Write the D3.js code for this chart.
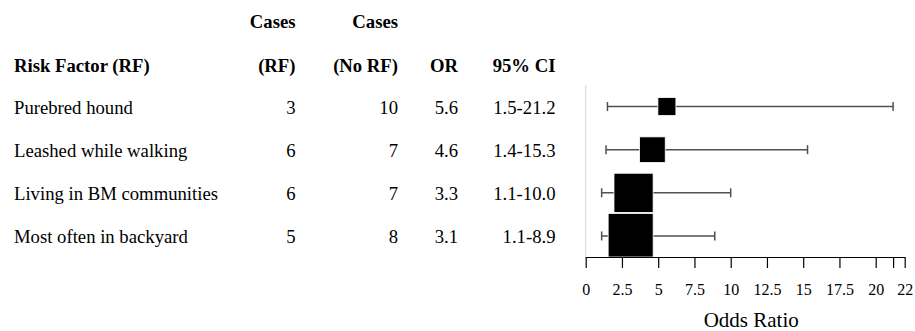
<!DOCTYPE html>
<html>
<head>
<meta charset="utf-8">
<script src="https://cdn.jsdelivr.net/npm/d3@7"></script>
<style>
  html, body { margin: 0; padding: 0; background: #fff; }
</style>
</head>
<body>
<div id="chart"></div>
<script>
// Table / forest plot data
const factors = ["Purebred hound", "Leashed while walking", "Living in BM communities", "Most often in backyard"];
const casesRF = [3, 6, 6, 5];
const casesNoRF = [10, 7, 7, 8];
const oddsRatio = [5.6, 4.6, 3.3, 3.1];
const ciLow = [1.5, 1.4, 1.1, 1.1];
const ciHigh = [21.2, 15.3, 10.0, 8.9];
const ciLabels = ["1.5-21.2", "1.4-15.3", "1.1-10.0", "1.1-8.9"];
const weights = [4, 5.7, 8.7, 10]; // relative marker weight

const xTicks = [0, 2.5, 5, 7.5, 10, 12.5, 15, 17.5, 20, 21.2, 22];
const xTickLabels = ["0", "2.5", "5", "7.5", "10", "12.5", "15", "17.5", "20", "", "22"];

const width = 915, height = 331;
const serif = "Liberation Serif";

const svg = d3.select("#chart")
    .append("svg")
    .attr("width", width)
    .attr("height", height)
    .attr("viewBox", [0, 0, width, height])
    .attr("font-family", serif)
    .style("display", "block");

const rows = factors.map((f, i) => ({
    name: f, rf: casesRF[i], norf: casesNoRF[i], or: oddsRatio[i],
    lo: ciLow[i], hi: ciHigh[i], ci: ciLabels[i], w: weights[i]
}));

// Scales
const y = d3.scaleBand()
    .domain(factors)
    .range([85, 257.5]);

const x = d3.scaleLinear()
    .domain([0, 22])
    .range([585.7, 904.7]);

const boxSize = d3.scaleLinear()
    .domain([0, 10])
    .range([0, 45]);

const rowY = d => y(d.name) + y.bandwidth() / 2;

// ---- Table ----
const table = svg.append("g")
    .attr("font-family", serif)
    .attr("font-size", "18.7px")
    .attr("fill", "#000");

const cols = [
    { key: "rf", x: 295.5, head: ["Cases", "(RF)"] },
    { key: "norf", x: 398, head: ["Cases", "(No RF)"] },
    { key: "or", x: 458, head: ["", "OR"] },
    { key: "ci", x: 555.5, head: ["", "95% CI"] }
];

// headers
table.append("text")
    .attr("x", 14).attr("y", 65).attr("dy", "0.35em")
    .attr("font-weight", "bold")
    .text("Risk Factor (RF)");

cols.forEach(c => {
    c.head.forEach((h, j) => {
        if (!h) return;
        table.append("text")
            .attr("x", c.x).attr("y", j === 0 ? 21.7 : 65).attr("dy", "0.35em")
            .attr("text-anchor", "end")
            .attr("font-weight", "bold")
            .text(h);
    });
});

// body
table.selectAll(".row-name")
    .data(rows)
    .join("text")
    .attr("class", "row-name")
    .attr("x", 14).attr("y", d => rowY(d) + 0.5).attr("dy", "0.35em")
    .text(d => d.name);

cols.forEach(c => {
    table.selectAll(".col-" + c.key)
        .data(rows)
        .join("text")
        .attr("class", "col-" + c.key)
        .attr("x", c.x).attr("y", d => rowY(d) + 0.5).attr("dy", "0.35em")
        .attr("text-anchor", "end")
        .text(d => c.key === "or" ? d3.format(".1f")(d.or) : d[c.key]);
});

// ---- Forest plot ----
const plot = svg.append("g");

// vertical reference line (light gray)
plot.append("line")
    .attr("x1", x(0)).attr("x2", x(0))
    .attr("y1", y.range()[0]).attr("y2", y.range()[1])
    .attr("stroke", "#d9d9d9")
    .attr("stroke-width", 1);

// CI lines
const ci = plot.selectAll(".ci")
    .data(rows)
    .join("g")
    .attr("class", "ci")
    .attr("stroke", "#505050")
    .attr("stroke-width", 1.5);

ci.append("line")
    .attr("x1", d => x(d.lo)).attr("x2", d => x(d.hi))
    .attr("y1", rowY).attr("y2", rowY);

ci.append("line")
    .attr("x1", d => x(d.lo)).attr("x2", d => x(d.lo))
    .attr("y1", d => rowY(d) - 4.5).attr("y2", d => rowY(d) + 4.5);

ci.append("line")
    .attr("x1", d => x(d.hi)).attr("x2", d => x(d.hi))
    .attr("y1", d => rowY(d) - 4.5).attr("y2", d => rowY(d) + 4.5);

// OR boxes
plot.selectAll(".box")
    .data(rows)
    .join("rect")
    .attr("class", "box")
    .attr("x", d => x(d.or) - boxSize(d.w) / 2)
    .attr("y", d => rowY(d) - boxSize(d.w) / 2)
    .attr("width", d => boxSize(d.w))
    .attr("height", d => Math.min(boxSize(d.w), 257 - (rowY(d) - boxSize(d.w) / 2)))
    .attr("fill", "#000")
    .attr("stroke", "#fff")
    .attr("stroke-width", 0.8);

// x axis
const xAxis = d3.axisBottom(x)
    .tickValues(xTicks)
    .tickFormat((d, i) => xTickLabels[i])
    .tickSize(11)
    .tickPadding(16)
    .tickSizeOuter(0);

const gx = svg.append("g")
    .attr("transform", "translate(0,257)")
    .call(xAxis)
    .attr("font-family", serif)
    .attr("font-size", 16);

gx.select(".domain").attr("stroke", "#000").attr("stroke-width", 1.2);
gx.selectAll(".tick line").attr("stroke", "#000").attr("stroke-width", 1.2);
gx.selectAll(".tick text").attr("fill", "#000");

svg.append("text")
    .attr("x", (x(0) + x(22)) / 2 + 6)
    .attr("y", 320).attr("dy", "0.35em")
    .attr("text-anchor", "middle")
    .attr("font-family", serif)
    .attr("font-size", "21px")
    .attr("fill", "#000")
    .text("Odds Ratio");
</script>
</body>
</html>
